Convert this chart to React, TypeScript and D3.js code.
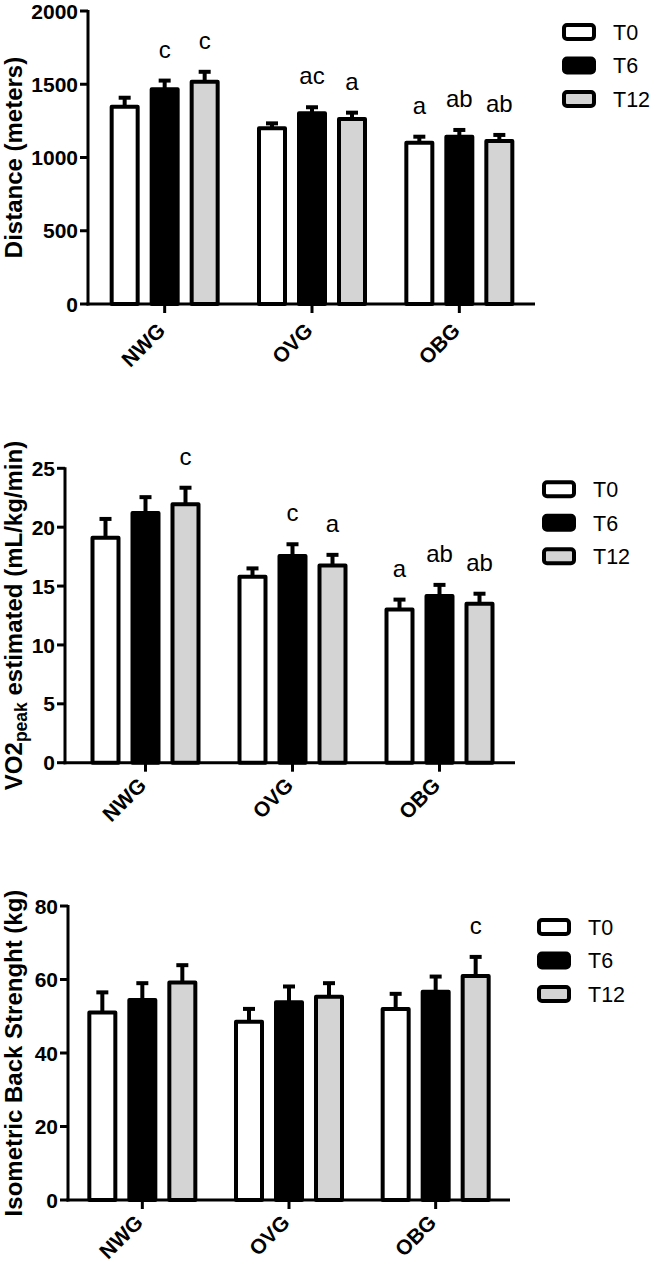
import React from "react";
import * as d3 from "d3";

const groups = ["NWG", "OVG", "OBG"];
const series = ["T0", "T6", "T12"];
const seriesFill = ["#ffffff", "#000000", "#d4d4d4"];

// Distance (meters)
const distT0 = [1347, 1199, 1101];
const distT0Err = [61, 34, 41];
const distT6 = [1466, 1302, 1142];
const distT6Err = [59, 41, 46];
const distT12 = [1517, 1263, 1113];
const distT12Err = [68, 43, 41];
const distT0Sig = ["", "", "a"];
const distT6Sig = ["c", "ac", "ab"];
const distT12Sig = ["c", "a", "ab"];
const distTicks = [0, 500, 1000, 1500, 2000];

// VO2peak estimated (mL/kg/min)
const vo2T0 = [19.1, 15.8, 13.0];
const vo2T0Err = [1.6, 0.7, 0.85];
const vo2T6 = [21.2, 17.55, 14.15];
const vo2T6Err = [1.35, 1.0, 0.95];
const vo2T12 = [21.95, 16.75, 13.5];
const vo2T12Err = [1.4, 0.9, 0.85];
const vo2T0Sig = ["", "", "a"];
const vo2T6Sig = ["", "c", "ab"];
const vo2T12Sig = ["c", "a", "ab"];
const vo2Ticks = [0, 5, 10, 15, 20, 25];

// Isometric Back Strength (kg)
const strT0 = [51.0, 48.5, 52.0];
const strT0Err = [5.5, 3.5, 4.1];
const strT6 = [54.4, 53.8, 56.7];
const strT6Err = [4.6, 4.3, 4.1];
const strT12 = [59.2, 55.3, 60.95];
const strT12Err = [4.7, 3.7, 5.2];
const strT0Sig = ["", "", ""];
const strT6Sig = ["", "", ""];
const strT12Sig = ["", "", "c"];
const strTicks = [0, 20, 40, 60, 80];

const FONT = "'Liberation Sans', Arial, Helvetica, sans-serif";

type Panel = {
  key: string;
  values: number[][];
  errors: number[][];
  sigs: string[][];
  ticks: number[];
  title: React.ReactNode;
  axisX: number;
  axisEnd: number;
  yTop: number;
  yBottom: number;
  band: [number, number];
  labelDrop: number;
};

const panels: Panel[] = [
  {
    key: "dist",
    values: [distT0, distT6, distT12],
    errors: [distT0Err, distT6Err, distT12Err],
    sigs: [distT0Sig, distT6Sig, distT12Sig],
    ticks: distTicks,
    title: "Distance (meters)",
    axisX: 88,
    axisEnd: 535,
    yTop: 11,
    yBottom: 304,
    band: [91, 533],
    labelDrop: 28,
  },
  {
    key: "vo2",
    values: [vo2T0, vo2T6, vo2T12],
    errors: [vo2T0Err, vo2T6Err, vo2T12Err],
    sigs: [vo2T0Sig, vo2T6Sig, vo2T12Sig],
    ticks: vo2Ticks,
    title: (
      <>
        <tspan>VO2</tspan>
        <tspan fontSize={17.5} dy={5}>peak</tspan>
        <tspan dy={-5}> estimated (mL/kg/min)</tspan>
      </>
    ),
    axisX: 65,
    axisEnd: 515,
    yTop: 468.3,
    yBottom: 762.7,
    band: [72, 513],
    labelDrop: 24,
  },
  {
    key: "str",
    values: [strT0, strT6, strT12],
    errors: [strT0Err, strT6Err, strT12Err],
    sigs: [strT0Sig, strT6Sig, strT12Sig],
    ticks: strTicks,
    title: "Isometric Back Strenght (kg)",
    axisX: 68,
    axisEnd: 510,
    yTop: 906,
    yBottom: 1200,
    band: [69, 509],
    labelDrop: 24,
  },
];

function PanelChart({ p }: { p: Panel }) {
  const yMax = p.ticks[p.ticks.length - 1];
  const y = d3.scaleLinear().domain([0, yMax]).range([p.yBottom, p.yTop]);
  const x0 = d3.scaleBand<string>().domain(groups).range(p.band).padding(0);
  const x1 = d3
    .scaleBand<string>()
    .domain(series)
    .range([-60, 60])
    .paddingInner(0.25)
    .paddingOuter(0.125);
  const bw = x1.bandwidth();
  const legendX = p.axisEnd + 27;
  const legendY = p.yTop + 12;
  const titleY = (p.yTop + p.yBottom) / 2;

  return (
    <g>
      {/* bars */}
      {series.map((s, si) =>
        groups.map((g, gi) => {
          const cx = (x0(g) as number) + x0.bandwidth() / 2 + (x1(s) as number) + bw / 2;
          const v = p.values[si][gi];
          const e = p.errors[si][gi];
          const top = y(v);
          const errTop = y(v + e);
          const sig = p.sigs[si][gi];
          return (
            <g key={s + g}>
              <line x1={cx} x2={cx} y1={top} y2={errTop} stroke="#000" strokeWidth={4} />
              <line x1={cx - 6} x2={cx + 6} y1={errTop} y2={errTop} stroke="#000" strokeWidth={4} />
              <rect
                x={cx - (bw - 4) / 2}
                y={top}
                width={bw - 4}
                height={p.yBottom - top}
                fill={seriesFill[si]}
                stroke="#000"
                strokeWidth={4}
                strokeLinejoin="round"
              />
              {sig && (
                <text
                  x={cx}
                  y={errTop - 23}
                  textAnchor="middle"
                  fontFamily={FONT}
                  fontSize={24}
                  fill="#000"
                >
                  {sig}
                </text>
              )}
            </g>
          );
        })
      )}
      {/* axes */}
      <line x1={p.axisX} x2={p.axisX} y1={p.yTop - 1} y2={p.yBottom + 1.5} stroke="#000" strokeWidth={3} />
      <line x1={p.axisX - 1.5} x2={p.axisEnd} y1={p.yBottom} y2={p.yBottom} stroke="#000" strokeWidth={3} />
      {p.ticks.map((t) => (
        <g key={t}>
          <line x1={p.axisX - 8} x2={p.axisX} y1={y(t)} y2={y(t)} stroke="#000" strokeWidth={3} />
          <text
            x={p.axisX - 10}
            y={y(t)}
            dy="0.36em"
            textAnchor="end"
            fontFamily={FONT}
            fontWeight="bold"
            fontSize={21}
            fill="#000"
          >
            {t}
          </text>
        </g>
      ))}
      {groups.map((g) => {
        const gx = (x0(g) as number) + x0.bandwidth() / 2;
        return (
          <g key={g}>
            <line x1={gx} x2={gx} y1={p.yBottom} y2={p.yBottom + 9} stroke="#000" strokeWidth={3} />
            <text
              transform={`translate(${gx + 2},${p.yBottom + p.labelDrop}) rotate(-45)`}
              textAnchor="end"
              fontFamily={FONT}
              fontWeight="bold"
              fontSize={21}
              fill="#000"
            >
              {g}
            </text>
          </g>
        );
      })}
      {/* y title */}
      <text
        transform={`translate(21.5,${titleY}) rotate(-90)`}
        textAnchor="middle"
        fontFamily={FONT}
        fontWeight="bold"
        fontSize={24}
        fill="#000"
      >
        {p.title}
      </text>
      {/* legend */}
      {series.map((s, si) => (
        <g key={s} transform={`translate(${legendX},${legendY + si * 33.5})`}>
          <rect x={2} y={2} width={30} height={14} rx={3} fill={seriesFill[si]} stroke="#000" strokeWidth={4} />
          <text x={51} y={9} dy="0.36em" fontFamily={FONT} fontSize={21.5} fill="#000">
            {s}
          </text>
        </g>
      ))}
    </g>
  );
}

export default function App() {
  return (
    <svg
      width={653}
      height={1265}
      viewBox="0 0 653 1265"
      style={{ position: "absolute", left: 0, top: 0, background: "#fff" }}
    >
      <rect width={653} height={1265} fill="#fff" />
      {panels.map((p) => (
        <PanelChart key={p.key} p={p} />
      ))}
    </svg>
  );
}
